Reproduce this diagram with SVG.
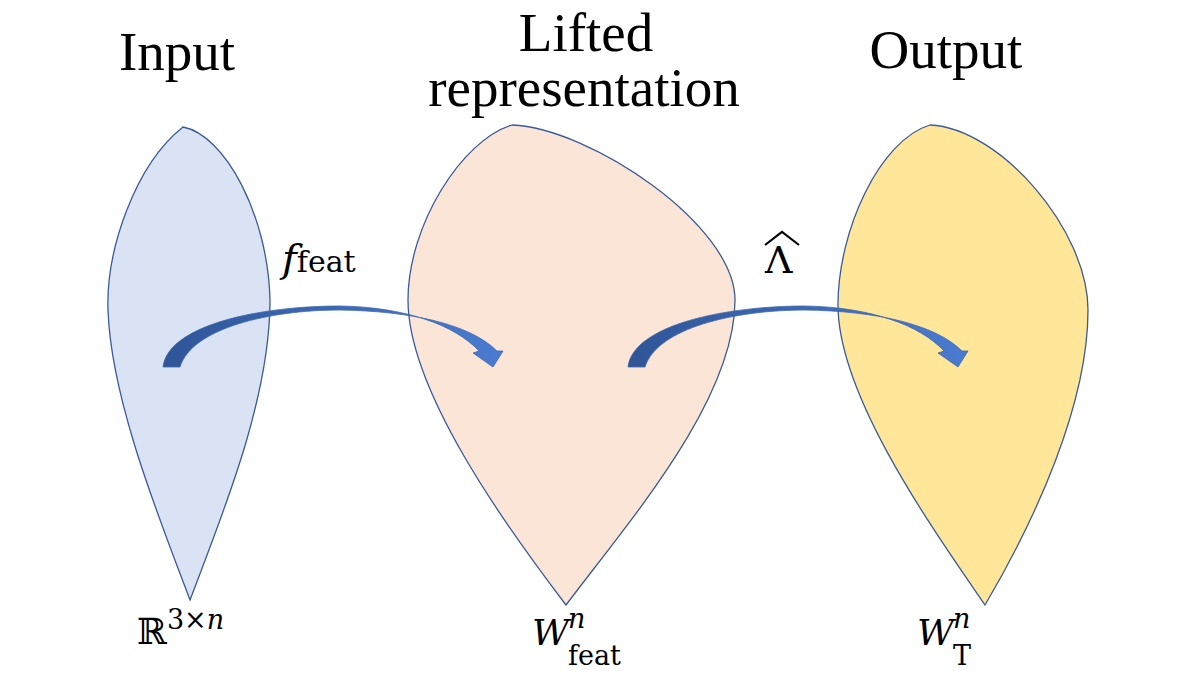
<svg xmlns="http://www.w3.org/2000/svg" width="1200" height="691" viewBox="0 0 1200 691">
<style>
.t{font-family:"Liberation Serif",serif;font-size:55px;fill:#000}
.m{font-family:"DejaVu Serif","Liberation Serif",serif;fill:#000}
.blob{stroke:#3b5a9a;stroke-width:1.3}
.arr{fill:url(#g);stroke:#3d68b0;stroke-width:0.8}
</style>
<defs>
<linearGradient id="g" x1="0" y1="0" x2="1" y2="0">
<stop offset="0" stop-color="#2f5597"/><stop offset="1" stop-color="#4a7bd0"/>
</linearGradient>
<path id="a" d="M163,367 C168,325 260,306 340,306 C405,307 455,325 479,351 L473,353 L493,367 L503,351 L497,351 C470,324 410,311 340,310 C270,310 192,328 180,367 Z"/>
</defs>
<rect width="1200" height="691" fill="#fff"/>
<g id="input">
<path class="blob" fill="#dae3f3" d="M183,127 C135,165 106,250 108,310 C111,400 160,520 190,600 C222,515 270,400 270,300 C268,215 225,135 183,127 Z"/>
<text class="t" x="177" y="70" text-anchor="middle">Input</text>
<text class="m" x="137" y="644" font-size="36">ℝ<tspan font-size="27" dy="-15">3×<tspan font-style="italic">n</tspan></tspan></text>
</g>
<g id="lifted">
<path class="blob" fill="#fbe5d6" d="M512,125 C462,140 408,225 408,300 C408,390 505,525 566,605 C630,520 735,400 735,300 C735,225 590,128 512,125 Z"/>
<text class="t" x="586" y="51" text-anchor="middle">Lifted</text>
<text class="t" x="584" y="106" text-anchor="middle">representation</text>
<text class="m" x="532" y="645" font-size="36" font-style="italic">W</text>
<text class="m" x="568" y="628" font-size="27" font-style="italic">n</text>
<text class="m" x="568" y="665" font-size="27">feat</text>
</g>
<g id="output">
<path class="blob" fill="#ffe699" d="M930,125 C880,140 838,230 838,305 C838,395 930,525 985,605 C1035,520 1088,405 1088,310 C1088,230 1000,128 930,125 Z"/>
<text class="t" x="946" y="68" text-anchor="middle">Output</text>
<text class="m" x="917" y="645" font-size="36" font-style="italic">W</text>
<text class="m" x="953" y="628" font-size="27" font-style="italic">n</text>
<text class="m" x="953" y="665" font-size="27">T</text>
</g>
<g id="connectors">
<use href="#a" class="arr"/>
<use href="#a" class="arr" transform="translate(465,0)"/>
<text class="m" x="282" y="272" font-size="40" font-style="italic">f<tspan font-style="normal" font-size="30">feat</tspan></text>
<text class="m" x="765" y="273" font-size="38">Λ</text>
<path d="M765,245 L782,232 L799,245" fill="none" stroke="#000" stroke-width="2.2"/>
</g>
</svg>
